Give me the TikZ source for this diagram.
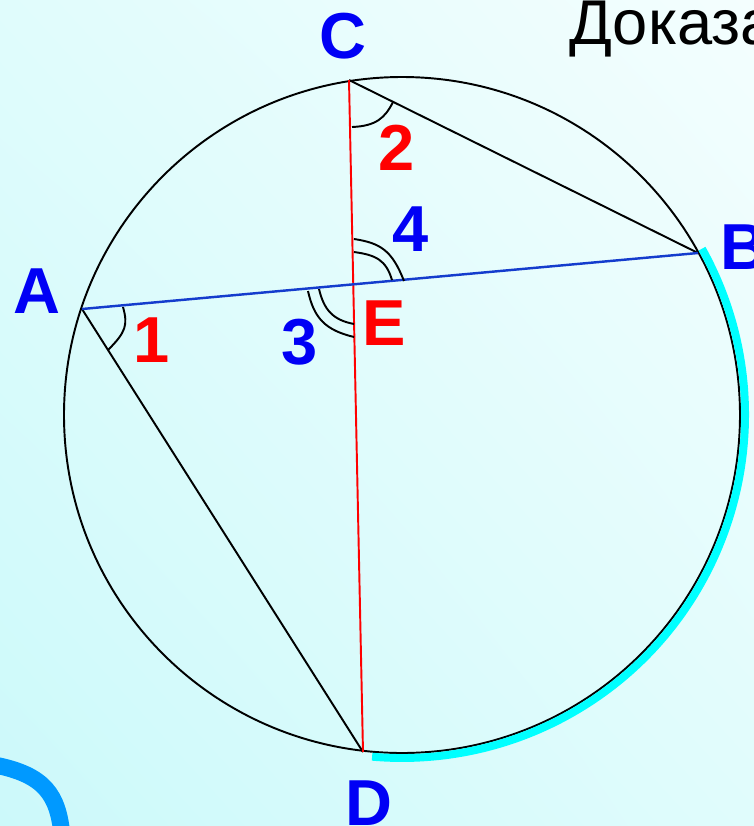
\documentclass[tikz,border=0pt]{standalone}
\usepackage{fontspec}
\setmainfont{Liberation Sans}
\usetikzlibrary{positioning,shadings}
\definecolor{bgdark}{RGB}{204,249,250}
\definecolor{bgmid}{RGB}{224,252,252}
\definecolor{bglight}{RGB}{244,254,254}
\definecolor{ptblue}{RGB}{0,0,245}
\definecolor{ptred}{RGB}{255,0,0}
\definecolor{chordblue}{RGB}{20,60,205}
\definecolor{arccyan}{RGB}{0,255,255}
\definecolor{cornerblue}{RGB}{0,153,255}

\begin{document}
\begin{tikzpicture}[x=0.02cm,y=-0.02cm,
  chord/.style={line width=1.1pt},
  angmark/.style={line width=1.1pt},
  ptlabel/.style={font=\fontsize{37}{37}\selectfont\bfseries,inner sep=0pt,text=ptblue},
  numlabel/.style={ptlabel,text=#1}]
  \useasboundingbox (0,0) rectangle (754,826);
  \shade[upper left=bgmid,upper right=bglight,lower left=bgdark,lower right=bgmid]
    (0,0) rectangle (754,826);

  % cut-off frame in the corner
  \draw[line width=9.6pt,cornerblue] (-5,765) .. controls (45,775) and (58,795) .. (62,835);

  \node[anchor=base west,inner sep=0pt,font=\fontsize{36}{36}\selectfont] (title) at (569,44) {Доказать};

  \coordinate (O) at (402,415);
  \coordinate (A) at (82,309);
  \coordinate (B) at (698,253);
  \coordinate (C) at (349,80);
  \coordinate (D) at (363,752);
  \coordinate (E) at (intersection of A--B and C--D);

  \draw[line width=1.1pt] (O) circle[radius=338];
  \draw[line width=4.5pt,arccyan] ([shift={(-29:343)}]O) arc[start angle=-29,end angle=95,radius=343];

  \draw[chord] (C) -- (B);
  \draw[chord] (A) -- (D);
  \draw[chord,ptred] (C) -- (D);
  \draw[line width=1.4pt,chordblue] (A) -- (B);

  % angle marks
  \draw[angmark] (123,307) .. controls (128,325) and (126,332) .. (108,350);
  \draw[angmark] (352,127) .. controls (376,126) and (385,118) .. (393,102);
  \draw[angmark] (308,291) .. controls (314,318) and (325,330) .. (354,337);
  \draw[angmark] (319,289) .. controls (324,310) and (333,320) .. (354,324);
  \draw[angmark] (354,239) .. controls (380,243) and (392,250) .. (404,281);
  \draw[angmark] (354,252) .. controls (376,255) and (386,260) .. (392,280);

  \node[ptlabel] (labA) at (37,291) {A};
  \node[ptlabel] (labB) at (744,247) {B};
  \node[ptlabel] (labC) at (343,36) {C};
  \node[ptlabel] (labD) at (369,803) {D};
  \node[numlabel=ptred] (labE) at (384,323) {E};

  \node[numlabel=ptred] (ang1) at (152,340) {1};
  \node[numlabel=ptred] (ang2) at (397,148) {2};
  \node[numlabel=ptblue] (ang3) at (300,342) {3};
  \node[numlabel=ptblue] (ang4) at (411,229) {4};
\end{tikzpicture}
\end{document}
